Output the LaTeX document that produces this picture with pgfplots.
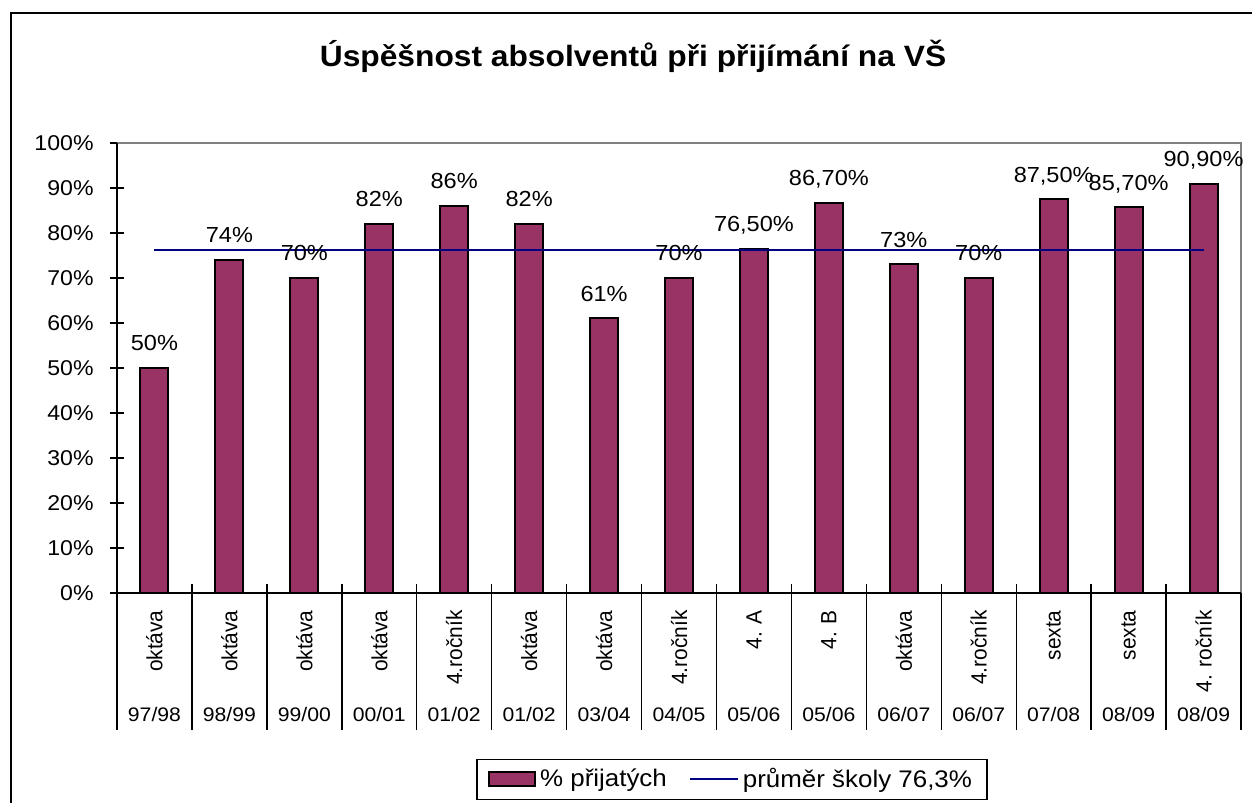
\documentclass[border=0pt]{standalone}
\usepackage{fontspec}
\setmainfont{Liberation Sans}[FakeStretch=1.08]
\newfontfamily\rotfont{Liberation Sans}[FakeStretch=0.95]
\usepackage{pgfplots}
\pgfplotsset{compat=1.18}
\definecolor{barcol}{RGB}{153,51,102}
\definecolor{avgcol}{RGB}{0,0,128}
\definecolor{framegray}{RGB}{128,128,128}
\begin{document}
\begin{tikzpicture}
\useasboundingbox (0,0) rectangle (626pt,401.5pt);
\draw[line width=0.8pt] (5.5pt,0) -- (5.5pt,395pt) -- (626pt,395pt);
\node[font=\bfseries\fontsize{14.7}{17}\selectfont, anchor=base] at (316.5pt,368pt) {Úspěšnost absolventů při přijímání na VŠ};
\begin{axis}[
  at={(58.5pt,105pt)}, anchor=south west,
  scale only axis, width=562pt, height=225pt,
  xmin=-0.5, xmax=14.5, ymin=0, ymax=100,
  clip=false,
  axis line style={draw=none},
  ytick={0,10,...,100},
  yticklabels={0\%,10\%,20\%,30\%,40\%,50\%,60\%,70\%,80\%,90\%,100\%},
  ytick pos=left,
  tick align=center,
  major tick length=7pt,
  y tick style={black, line width=0.8pt},
  yticklabel style={font=\fontsize{10.7}{13}\selectfont, anchor=east, inner xsep=8pt, inner ysep=0pt},
  xtick={0,...,14},
  xticklabels={97/98,98/99,99/00,00/01,01/02,01/02,03/04,04/05,05/06,05/06,06/07,06/07,07/08,08/09,08/09},
  x tick style={draw=none},
  xticklabel style={font=\fontsize{9.8}{12}\selectfont, anchor=north, text height=0pt, inner ysep=60.5pt, inner xsep=0pt},
  extra x ticks={0,...,14},
  extra x tick labels={oktáva,oktáva,oktáva,oktáva,4.ročník,oktáva,oktáva,4.ročník,4. A,4. B,oktáva,4.ročník,sexta,sexta,4. ročník},
  extra x tick style={xticklabel style={font=\rotfont\fontsize{11}{13}\selectfont, rotate=90, anchor=east, text height=, inner xsep=5pt, inner ysep=0pt}},
  legend style={at={(0.5472,-0.4144)}, anchor=center, draw=black, line width=0.7pt,
    font=\fontsize{12}{14}\selectfont, inner xsep=5.5pt, inner ysep=2.5pt,
    /tikz/every even column/.append style={column sep=9pt}},
  legend columns=2,
  legend cell align=left,
]
\addplot[ybar, bar width=14pt, fill=barcol, draw=black, line width=1pt,
  point meta=explicit symbolic, nodes near coords,
  nodes near coords style={font=\fontsize{10.9}{13}\selectfont, anchor=base, inner sep=0pt, yshift=8.5pt, black},
  legend image code/.code={\draw[fill=barcol, draw=black, line width=1pt] (0pt,-3.5pt) rectangle (23pt,3.5pt);}]
  table[x=x, y=y, meta=label] {
x y label
0 50 50\%
1 74 74\%
2 70 70\%
3 82 82\%
4 86 86\%
5 82 82\%
6 61 61\%
7 70 70\%
8 76.5 76,50\%
9 86.7 86,70\%
10 73 73\%
11 70 70\%
12 87.5 87,50\%
13 85.7 85,70\%
14 90.9 90,90\%
};
\addplot[avgcol, line width=1pt, sharp plot, mark=none,
  legend image code/.code={\draw[avgcol, line width=1pt] (0pt,0pt) -- (24pt,0pt);}]
  coordinates {(0,76.3) (14,76.3)};
\legend{\% přijatých, {průměr školy 76,3\%}}
\pgfplotsinvokeforeach{-0.5,0.5,...,14.5}{
  \draw[black, line width=0.7pt] ([yshift=4.5pt]axis cs:#1,0) -- ([yshift=-68.5pt]axis cs:#1,0);
}
\draw[framegray, line width=1pt] (rel axis cs:0,1) -- (rel axis cs:1,1) -- (rel axis cs:1,0);
\draw[black, line width=1pt] (rel axis cs:0,1) -- (rel axis cs:0,0) -- (rel axis cs:1,0);
\end{axis}
\end{tikzpicture}
\end{document}
